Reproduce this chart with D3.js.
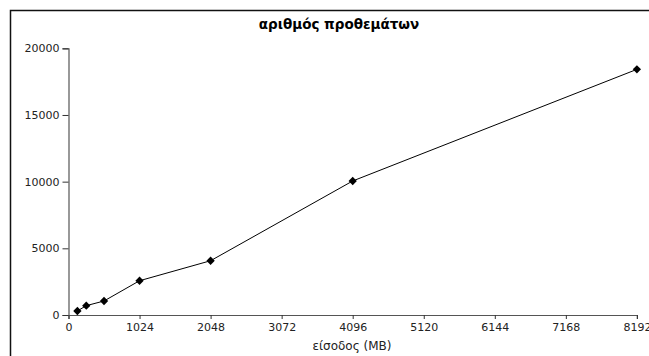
<!DOCTYPE html>
<html><head><meta charset="utf-8">
<script src="https://cdn.jsdelivr.net/npm/d3@7"></script>
<style>body{margin:0;background:#fff}svg{display:block}text{font-family:"DejaVu Sans",sans-serif}</style>
</head><body>
<svg id="c" width="649" height="356"></svg>
<script>
const inputSizes = [128, 256, 512, 1024, 2048, 4096, 8192];
const prefixCounts = [300, 700, 1050, 2570, 4070, 10050, 18420];
const xTicks = [0, 1024, 2048, 3072, 4096, 5120, 6144, 7168, 8192];
const yTicks = [0, 5000, 10000, 15000, 20000];
const title = "αριθμός προθεμάτων";
const xLabel = "είσοδος (MB)";

const svg = d3.select("#c");
// frame
svg.append("path").attr("d","M10.5,356 V10.5 H649").attr("fill","none").attr("stroke","#111").attr("stroke-width",1.5);

const x = d3.scaleLinear().domain([0, 8192]).range([68.5, 636.9]);
const y = d3.scaleLinear().domain([0, 20000]).range([315, 48.3]);

const xa = svg.append("g").attr("transform","translate(0,315)")
  .call(d3.axisBottom(x).tickValues(xTicks).tickFormat(d3.format("d")).tickSize(4).tickPadding(4));
const ya = svg.append("g").attr("transform","translate(68.5,0)")
  .call(d3.axisLeft(y).tickValues(yTicks).tickFormat(d3.format("d")).tickSize(6).tickPadding(3));
[xa, ya].forEach(a => {
  a.select(".domain").attr("stroke","#555").attr("stroke-width",1.2);
  a.selectAll(".tick line").attr("stroke","#333");
  a.selectAll("text").attr("font-size","11px").attr("fill","#222").attr("font-family","DejaVu Sans");
});

const pts = inputSizes.map((v,i)=>[v, prefixCounts[i]]);
svg.append("path").datum(pts)
  .attr("d", d3.line().x(d=>x(d[0])).y(d=>y(d[1])))
  .attr("fill","none").attr("stroke","#000").attr("stroke-width",1);
svg.selectAll(".m").data(pts).enter().append("path")
  .attr("d", d3.symbol(d3.symbolDiamond2, 44))
  .attr("transform", d=>`translate(${x(d[0])},${y(d[1])})`)
  .attr("fill","#000");

svg.append("text").attr("x",339).attr("y",28.5).attr("text-anchor","middle")
  .attr("font-size","13.5px").attr("font-weight","bold").text(title);
svg.append("text").attr("x",352).attr("y",350).attr("text-anchor","middle")
  .attr("font-size","12px").attr("fill","#222").text(xLabel);
</script>
</body></html>
